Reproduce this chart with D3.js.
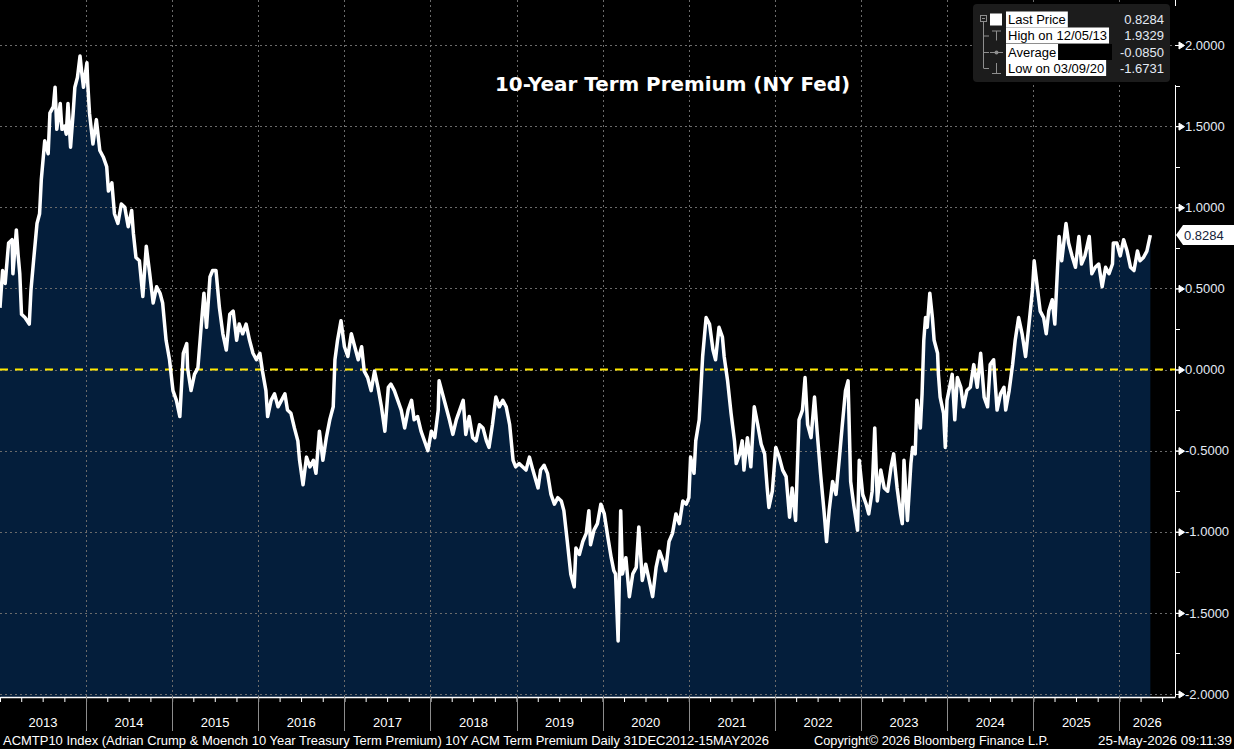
<!DOCTYPE html>
<html>
<head>
<meta charset="utf-8">
<script src="https://cdn.jsdelivr.net/npm/d3@7"></script>
<style>
  body { margin: 0; background: #000; overflow: hidden; }
  svg { display: block; }
</style>
</head>
<body>
<div id="chart-area"></div>
<script>
/*
*    10-Year Term Premium (NY Fed), Bloomberg style
*/

// [decimal year, term premium %]
var termPremium = [
  [2013.00,0.38],[2013.03,0.61],[2013.06,0.53],[2013.10,0.78],[2013.14,0.80],[2013.15,0.59],[2013.19,0.86],[2013.21,0.71],
  [2013.23,0.59],[2013.25,0.34],[2013.29,0.32],[2013.34,0.28],[2013.36,0.49],[2013.39,0.67],[2013.43,0.90],[2013.46,0.96],
  [2013.48,1.17],[2013.52,1.41],[2013.56,1.33],[2013.58,1.58],[2013.62,1.62],[2013.64,1.74],[2013.66,1.48],[2013.70,1.64],
  [2013.72,1.48],[2013.75,1.50],[2013.77,1.45],[2013.79,1.64],[2013.82,1.37],[2013.85,1.58],[2013.87,1.74],[2013.90,1.80],
  [2013.93,1.9329],[2013.95,1.83],[2013.97,1.74],[2014.01,1.89],[2014.02,1.76],[2014.04,1.58],[2014.08,1.39],[2014.12,1.54],
  [2014.16,1.35],[2014.20,1.31],[2014.24,1.25],[2014.26,1.10],[2014.30,1.15],[2014.33,0.96],[2014.37,0.90],[2014.41,1.02],
  [2014.45,1.00],[2014.49,0.88],[2014.53,0.98],[2014.55,0.84],[2014.58,0.69],[2014.62,0.67],[2014.66,0.45],[2014.70,0.76],
  [2014.74,0.59],[2014.78,0.41],[2014.82,0.51],[2014.86,0.47],[2014.89,0.41],[2014.93,0.18],[2014.97,0.06],[2015.01,-0.13],
  [2015.05,-0.19],[2015.09,-0.29],[2015.13,0.10],[2015.17,0.16],[2015.18,0.01],[2015.22,-0.13],[2015.26,-0.03],[2015.30,0.01],
  [2015.34,0.28],[2015.37,0.47],[2015.40,0.26],[2015.44,0.57],[2015.47,0.61],[2015.51,0.61],[2015.55,0.38],[2015.59,0.22],
  [2015.63,0.12],[2015.67,0.34],[2015.71,0.36],[2015.75,0.18],[2015.78,0.28],[2015.82,0.22],[2015.86,0.28],[2015.90,0.18],
  [2015.94,0.10],[2015.98,0.06],[2016.02,0.10],[2016.05,-0.01],[2016.09,-0.13],[2016.11,-0.29],[2016.15,-0.19],[2016.19,-0.15],
  [2016.23,-0.23],[2016.27,-0.19],[2016.31,-0.15],[2016.34,-0.25],[2016.38,-0.27],[2016.42,-0.36],[2016.46,-0.44],
  [2016.48,-0.56],[2016.52,-0.71],[2016.56,-0.54],[2016.60,-0.60],[2016.64,-0.56],[2016.67,-0.64],[2016.71,-0.38],[2016.75,-0.56],
  [2016.79,-0.42],[2016.83,-0.31],[2016.87,-0.23],[2016.89,0.06],[2016.92,0.18],[2016.96,0.30],[2017.00,0.14],[2017.04,0.08],
  [2017.08,0.22],[2017.12,0.14],[2017.16,0.06],[2017.20,0.14],[2017.23,-0.01],[2017.27,-0.05],[2017.31,-0.13],[2017.35,-0.01],
  [2017.39,-0.11],[2017.43,-0.23],[2017.47,-0.38],[2017.51,-0.11],[2017.54,-0.09],[2017.58,-0.13],[2017.62,-0.19],[2017.66,-0.25],
  [2017.70,-0.36],[2017.74,-0.25],[2017.78,-0.19],[2017.81,-0.31],[2017.85,-0.29],[2017.89,-0.38],[2017.93,-0.44],[2017.97,-0.50],
  [2018.01,-0.38],[2018.05,-0.42],[2018.09,-0.25],[2018.10,-0.07],[2018.14,-0.15],[2018.18,-0.23],[2018.22,-0.31],[2018.26,-0.40],
  [2018.30,-0.31],[2018.34,-0.25],[2018.38,-0.19],[2018.41,-0.40],[2018.45,-0.29],[2018.49,-0.42],[2018.53,-0.44],[2018.57,-0.34],
  [2018.61,-0.36],[2018.65,-0.44],[2018.68,-0.48],[2018.72,-0.34],[2018.76,-0.17],[2018.80,-0.23],[2018.84,-0.19],[2018.88,-0.23],
  [2018.92,-0.34],[2018.96,-0.56],[2018.99,-0.60],[2019.03,-0.58],[2019.07,-0.60],[2019.11,-0.62],[2019.15,-0.54],[2019.19,-0.62],
  [2019.25,-0.73],[2019.28,-0.62],[2019.32,-0.59],[2019.36,-0.64],[2019.40,-0.77],[2019.44,-0.83],[2019.48,-0.79],[2019.52,-0.81],
  [2019.55,-0.87],[2019.59,-1.06],[2019.63,-1.26],[2019.67,-1.34],[2019.69,-1.10],[2019.73,-1.14],[2019.77,-1.06],[2019.81,-1.01],
  [2019.84,-0.87],[2019.86,-1.08],[2019.90,-0.99],[2019.94,-0.95],[2019.98,-0.83],[2020.02,-0.89],[2020.06,-1.03],[2020.10,-1.16],
  [2020.13,-1.24],
  [2020.15,-1.26],[2020.18,-1.6731],[2020.21,-0.87],[2020.23,-1.26],[2020.27,-1.16],[2020.31,-1.40],[2020.35,-1.26],[2020.39,-1.22],
  [2020.42,-0.97],[2020.46,-1.30],[2020.50,-1.20],[2020.54,-1.30],[2020.58,-1.40],[2020.62,-1.22],[2020.66,-1.12],[2020.70,-1.18],
  [2020.73,-1.24],[2020.77,-1.06],[2020.81,-1.01],[2020.85,-0.89],[2020.89,-0.95],[2020.93,-0.81],[2020.97,-0.83],[2021.00,-0.79],
  [2021.02,-0.54],[2021.06,-0.64],[2021.08,-0.44],[2021.12,-0.31],[2021.16,0.08],[2021.20,0.32],[2021.24,0.28],[2021.28,0.12],
  [2021.31,0.06],[2021.35,0.26],[2021.39,0.20],[2021.41,0.08],[2021.45,-0.07],[2021.49,-0.27],[2021.53,-0.44],[2021.55,-0.58],
  [2021.59,-0.52],[2021.62,-0.44],[2021.64,-0.62],[2021.68,-0.42],[2021.72,-0.60],[2021.76,-0.23],[2021.80,-0.34],[2021.84,-0.46],
  [2021.88,-0.52],[2021.91,-0.73],[2021.93,-0.85],[2021.97,-0.75],[2022.01,-0.48],[2022.05,-0.54],[2022.09,-0.62],[2022.13,-0.66],
  [2022.17,-0.91],[2022.20,-0.73],[2022.24,-0.93],[2022.28,-0.31],[2022.32,-0.25],[2022.35,-0.05],[2022.38,-0.34],[2022.42,-0.42],
  [2022.46,-0.17],[2022.49,-0.38],[2022.53,-0.64],[2022.57,-0.87],[2022.60,-1.06],[2022.63,-0.87],[2022.67,-0.69],[2022.71,-0.77],
  [2022.75,-0.54],[2022.78,-0.36],[2022.82,-0.13],[2022.85,-0.07],[2022.88,-0.69],[2022.92,-0.85],[2022.96,-0.99],[2022.98,-0.56],
  [2023.02,-0.77],[2023.06,-0.83],[2023.09,-0.89],[2023.13,-0.75],[2023.16,-0.36],[2023.19,-0.81],[2023.23,-0.62],[2023.27,-0.73],
  [2023.31,-0.75],[2023.35,-0.60],[2023.38,-0.52],[2023.42,-0.73],[2023.46,-0.89],[2023.48,-0.95],[2023.50,-0.56],[2023.54,-0.93],
  [2023.58,-0.58],[2023.60,-0.48],[2023.63,-0.52],[2023.65,-0.19],[2023.69,-0.36],[2023.71,-0.15],[2023.73,0.18],[2023.75,0.32],
  [2023.77,0.26],[2023.80,0.47],[2023.83,0.32],[2023.85,0.18],[2023.89,0.10],[2023.90,-0.03],[2023.92,-0.17],[2023.96,-0.27],
  [2023.98,-0.48],[2024.00,-0.19],[2024.03,-0.11],[2024.06,-0.03],[2024.09,-0.31],[2024.12,-0.05],[2024.16,-0.11],[2024.19,-0.23],
  [2024.23,-0.13],[2024.27,-0.11],[2024.31,0.03],[2024.35,-0.11],[2024.39,0.10],[2024.43,-0.17],[2024.47,-0.23],[2024.50,0.03],
  [2024.54,0.06],[2024.58,-0.25],[2024.62,-0.15],[2024.66,-0.11],[2024.68,-0.25],[2024.72,-0.13],[2024.76,0.03],[2024.79,0.18],
  [2024.83,0.32],[2024.87,0.22],[2024.91,0.08],[2024.95,0.28],[2024.99,0.49],[2025.01,0.67],[2025.05,0.49],[2025.08,0.36],
  [2025.12,0.32],[2025.15,0.22],[2025.18,0.36],[2025.22,0.43],[2025.25,0.28],[2025.28,0.61],[2025.30,0.82],[2025.33,0.67],
  [2025.35,0.76],[2025.38,0.90],[2025.41,0.78],[2025.45,0.70],[2025.49,0.63],[2025.53,0.82],[2025.56,0.65],[2025.60,0.70],
  [2025.65,0.82],[2025.68,0.59],[2025.72,0.63],[2025.76,0.65],[2025.80,0.51],[2025.84,0.63],[2025.88,0.59],[2025.92,0.65],
  [2025.93,0.78],[2025.97,0.78],[2026.01,0.70],[2026.05,0.80],[2026.09,0.73],[2026.13,0.63],[2026.17,0.61],[2026.21,0.73],
  [2026.24,0.67],[2026.28,0.69],[2026.32,0.73],[2026.36,0.8284]
]

var yTicks = [-2, -1.5, -1, -0.5, 0, 0.5, 1, 1.5, 2]
var yearLabels = ["2013","2014","2015","2016","2017","2018","2019","2020","2021","2022","2023","2024","2025","2026"]
var legendLabels = ["Last Price", "High on 12/05/13", "Average", "Low on 03/09/20"]
var legendValues = ["0.8284", "1.9329", "-0.0850", "-1.6731"]
var lastPrice = 0.8284

var titleText = "10-Year Term Premium (NY Fed)"
var footerLeft = "ACMTP10 Index (Adrian Crump & Moench 10 Year Treasury Term Premium) 10Y ACM Term Premium Daily 31DEC2012-15MAY2026"
var footerMid = "Copyright\u00A9 2026 Bloomberg Finance L.P."
var footerRight = "25-May-2026 09:11:39"

var width = 1234
var height = 749
var plot = {left: 0, right: 1175, top: 0, bottom: 697}
var font = "'Liberation Sans', Arial, sans-serif"

function toDate(t) {
  var yr = Math.floor(t)
  var s = Date.UTC(yr, 0, 1), e = Date.UTC(yr + 1, 0, 1)
  return new Date(s + (t - yr) * (e - s))
}

var svg = d3.select("#chart-area")
  .append("svg")
  .attr("width", width)
  .attr("height", height)

svg.append("rect").attr("width", width).attr("height", height).attr("fill", "#000")

var x = d3.scaleUtc()
  .domain([new Date(Date.UTC(2013, 0, 1)), new Date(Date.UTC(2026, 7, 25))])
  .range([plot.left, plot.right])
var y = d3.scaleLinear().domain([-2, 2]).range([694, 45])

svg.append("clipPath").attr("id", "clip")
  .append("rect")
  .attr("x", plot.left).attr("y", plot.top)
  .attr("width", plot.right - plot.left).attr("height", plot.bottom - plot.top)

var g = svg.append("g").attr("clip-path", "url(#clip)")

// filled area under the series
var area = d3.area()
  .x(d => x(toDate(d[0])))
  .y0(plot.bottom)
  .y1(d => y(d[1]))
g.append("path").datum(termPremium).attr("fill", "#041e3b").attr("d", area)

// grid
var yearStarts = x.ticks(d3.utcYear.every(1))
g.selectAll(".hgrid").data(yTicks).enter().append("line")
  .attr("x1", plot.left).attr("x2", plot.right)
  .attr("y1", d => Math.round(y(d)) + 0.5).attr("y2", d => Math.round(y(d)) + 0.5)
  .attr("stroke", "#6b6b6b").attr("stroke-dasharray", "2,3")
g.selectAll(".vgrid").data(yearStarts.slice(1)).enter().append("line")
  .attr("x1", d => Math.round(x(d)) + 0.5).attr("x2", d => Math.round(x(d)) + 0.5)
  .attr("y1", plot.top).attr("y2", plot.bottom)
  .attr("stroke", "#6b6b6b").attr("stroke-dasharray", "2,3")

// zero line
g.append("line")
  .attr("x1", plot.left).attr("x2", plot.right)
  .attr("y1", y(0)).attr("y2", y(0))
  .attr("stroke", "#ffe800").attr("stroke-width", 2).attr("stroke-dasharray", "8,7")

// series line
var line = d3.line().x(d => x(toDate(d[0]))).y(d => y(d[1]))
g.append("path").datum(termPremium)
  .attr("fill", "none").attr("stroke", "#fff").attr("stroke-width", 3.5)
  .attr("stroke-linejoin", "round")
  .attr("d", line)

// title
svg.append("text")
  .attr("x", 495).attr("y", 91)
  .attr("textLength", 355).attr("lengthAdjust", "spacingAndGlyphs")
  .attr("font-family", "'DejaVu Sans', Verdana, sans-serif")
  .attr("font-weight", "bold").attr("font-size", "19px")
  .attr("fill", "#fff")
  .text(titleText)

// bottom axis, quarterly ticks
var bottomAxis = d3.axisBottom(x).ticks(d3.utcMonth.every(3)).tickSize(5).tickSizeOuter(0).tickFormat("")
var bx = svg.append("g")
  .attr("transform", `translate(0, ${plot.bottom})`)
  .call(bottomAxis)
bx.select(".domain").attr("stroke", "#fff").attr("stroke-width", 1.5)
bx.selectAll(".tick line").attr("stroke", "#fff")

svg.selectAll(".sep").data(yearStarts.slice(1)).enter().append("line")
  .attr("x1", d => Math.round(x(d)) + 0.5).attr("x2", d => Math.round(x(d)) + 0.5)
  .attr("y1", plot.bottom).attr("y2", 731)
  .attr("stroke", "#8c8c8c")

svg.selectAll(".yearLabel").data(yearLabels).enter().append("text")
  .attr("x", (d, i) => {
    var a = x(toDate(+d)), b = Math.min(x(toDate(+d + 1)), plot.right)
    return (a + b) / 2
  })
  .attr("y", 727)
  .attr("text-anchor", "middle")
  .attr("font-family", font).attr("font-size", "13px")
  .attr("fill", "#fff")
  .text(d => d)

// right axis
svg.append("line")
  .attr("x1", plot.right + 0.5).attr("x2", plot.right + 0.5)
  .attr("y1", 0).attr("y2", 6).attr("stroke", "#fff")
svg.append("line")
  .attr("x1", plot.right + 0.5).attr("x2", plot.right + 0.5)
  .attr("y1", 85).attr("y2", plot.bottom).attr("stroke", "#fff")

var rightAxis = d3.axisRight(y).tickValues(yTicks).tickSize(0).tickPadding(10)
  .tickFormat(d => d.toFixed(4))
var ry = svg.append("g")
  .attr("transform", `translate(${plot.right}, 0)`)
  .call(rightAxis)
ry.select(".domain").remove()
ry.selectAll(".tick text")
  .attr("font-family", font).attr("font-size", "13px")
  .attr("fill", "#e4ebf5")
ry.selectAll(".tick").append("path")
  .attr("d", "M0,0H4V-3.5L9.5,0L4,3.5V0Z")
  .attr("fill", "#fff").attr("stroke", "#fff").attr("stroke-width", 1)

var minorTicks = d3.pairs(yTicks).map(p => (p[0] + p[1]) / 2)
svg.selectAll(".minor").data(minorTicks).enter().append("line")
  .attr("x1", plot.right).attr("x2", plot.right + 5)
  .attr("y1", d => Math.round(y(d)) + 0.5).attr("y2", d => Math.round(y(d)) + 0.5)
  .attr("stroke", "#fff")

// last price marker
var ly = y(lastPrice)
svg.append("path")
  .attr("d", `M${plot.right + 1},${ly} L${plot.right + 8},${ly - 10} H${width} V${ly + 10} H${plot.right + 8} Z`)
  .attr("fill", "#fff")
svg.append("text")
  .attr("x", plot.right + 9).attr("y", ly).attr("dy", "0.35em")
  .attr("font-family", font).attr("font-size", "13px")
  .attr("fill", "#14233a")
  .text(lastPrice.toFixed(4))

// legend
var leg = svg.append("g")
leg.append("rect")
  .attr("x", 973).attr("y", 4).attr("width", 197).attr("height", 78).attr("rx", 4)
  .attr("fill", "#1c1c1c")
var rowY = [19.5, 35.5, 52, 68]
var iconCol = "#8e8e8e"
// tree
leg.append("rect").attr("x", 980.5).attr("y", 15.5).attr("width", 6).attr("height", 6)
  .attr("fill", "none").attr("stroke", iconCol)
leg.append("line").attr("x1", 982).attr("x2", 985).attr("y1", 18.5).attr("y2", 18.5).attr("stroke", iconCol)
leg.append("line").attr("x1", 983.5).attr("x2", 983.5).attr("y1", 21.5).attr("y2", rowY[3]).attr("stroke", iconCol)
rowY.slice(1).forEach(function (cy) {
  leg.append("line").attr("x1", 983.5).attr("x2", 989).attr("y1", cy + 0.5).attr("y2", cy + 0.5).attr("stroke", iconCol)
})
// row icons
leg.append("rect").attr("x", 990).attr("y", rowY[0] - 6).attr("width", 12).attr("height", 12).attr("fill", "#fff")
leg.append("path").attr("d", `M992,${rowY[1] - 4.5}H1001M996.5,${rowY[1] - 4.5}V${rowY[1] + 5}`)
  .attr("stroke", iconCol).attr("fill", "none")
leg.append("path").attr("d", `M990,${rowY[2] + 0.5}H1003`).attr("stroke", iconCol)
leg.append("circle").attr("cx", 996.5).attr("cy", rowY[2] + 0.5).attr("r", 2).attr("fill", iconCol)
leg.append("path").attr("d", `M996.5,${rowY[3] - 5}V${rowY[3] + 5.5}M992,${rowY[3] + 5.5}H1001`)
  .attr("stroke", iconCol).attr("fill", "none")

legendLabels.forEach(function (lab, i) {
  var cy = rowY[i]
  var bg = leg.append("rect").attr("x", 1006).attr("y", cy - 8).attr("height", 16).attr("fill", "#fff")
  var t = leg.append("text")
    .attr("x", 1008).attr("y", cy + 4.5)
    .attr("font-family", font).attr("font-size", "13px")
    .attr("fill", "#000")
    .text(lab)
  var w = t.node().getComputedTextLength()
  bg.attr("width", w + 4)
  if (i === 2) {
    leg.append("rect").attr("x", 1006 + w + 4).attr("y", cy - 8)
      .attr("width", 1112 - (1006 + w + 4)).attr("height", 16).attr("fill", "#000")
  }
  leg.append("text")
    .attr("x", 1164).attr("y", cy + 4.5)
    .attr("text-anchor", "end")
    .attr("font-family", font).attr("font-size", "13px")
    .attr("fill", "#e4ebf5")
    .text(legendValues[i])
})

// footer
svg.append("text")
  .attr("x", 3).attr("y", 745)
  .attr("textLength", 766).attr("lengthAdjust", "spacingAndGlyphs")
  .attr("font-family", font).attr("font-size", "13px").attr("fill", "#fff")
  .text(footerLeft)
svg.append("text")
  .attr("x", 814).attr("y", 745)
  .attr("textLength", 235).attr("lengthAdjust", "spacingAndGlyphs")
  .attr("font-family", font).attr("font-size", "13px").attr("fill", "#fff")
  .text(footerMid)
svg.append("text")
  .attr("x", 1098).attr("y", 745)
  .attr("textLength", 134).attr("lengthAdjust", "spacingAndGlyphs")
  .attr("font-family", font).attr("font-size", "13px").attr("fill", "#fff")
  .text(footerRight)
</script>
</body>
</html>
